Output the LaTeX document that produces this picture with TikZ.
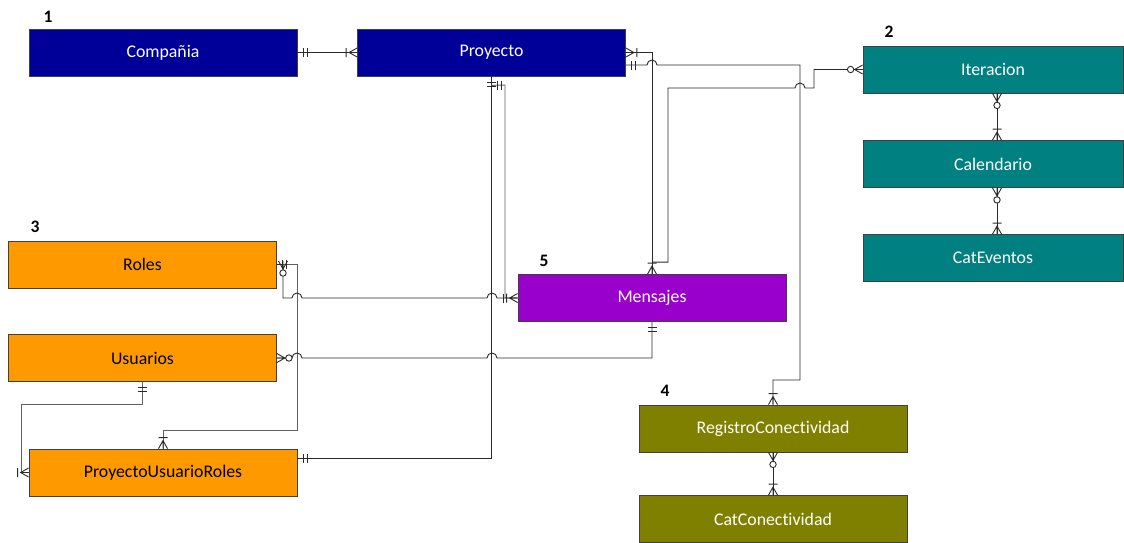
\documentclass[tikz,border=0pt]{standalone}
\usepackage{fontspec}
\setmainfont[Ligatures=NoCommon]{Carlito}
\usetikzlibrary{calc}

\definecolor{navy}{HTML}{000099}
\definecolor{tealbox}{HTML}{008080}
\definecolor{orangebox}{HTML}{FF9900}
\definecolor{purplebox}{HTML}{9900CC}
\definecolor{olivebox}{HTML}{808000}
\definecolor{linegray}{HTML}{2A2A2A}

\tikzset{
  ent/.style={draw=black!75, line width=0.8pt, minimum width=268pt, minimum height=47pt,
              inner sep=0pt, font=\fontsize{17.8}{20}\selectfont},
  darkent/.style={ent, text=white},
  conn/.style={draw=linegray, line width=0.9pt},
  softconn/.style={draw=black!62, line width=0.9pt},
  grouplabel/.style={font=\fontsize{17.5}{20}\selectfont\bfseries},
  % crow's foot notation, drawn with the entity edge at the origin and the line along +x
  pics/onemany/.style={code={
      \draw[conn] (0,4.5pt) -- (8pt,0) -- (0,-4.5pt) (0,0) -- (8pt,0) (11pt,-4.5pt) -- (11pt,4.5pt);}},
  pics/zeromany/.style={code={
      \draw[conn] (0,4.5pt) -- (8pt,0) -- (0,-4.5pt) (0,0) -- (8pt,0);
      \draw[conn, fill=white] (12pt,0) circle[radius=3.2pt];}},
  pics/oneone/.style={code={
      \draw[conn] (6pt,-4.5pt) -- (6pt,4.5pt) (10pt,-4.5pt) -- (10pt,4.5pt);}},
}

\begin{document}
\begin{tikzpicture}[x=1pt,y=1pt]
\useasboundingbox (0,0) rectangle (1124,-542);

% entities
\node[darkent, fill=navy] (comp) at (163,-52.5) {Compañia};
\node[darkent, fill=navy] (proy) at (491.5,-52.5) {Proyecto};
\node[darkent, fill=tealbox, minimum width=260pt] (iter) at (993,-69.5) {Iteracion};
\node[darkent, fill=tealbox, minimum width=260pt] (cal) at (993,-164) {Calendario};
\node[darkent, fill=tealbox, minimum width=260pt] (cate) at (993,-258) {CatEventos};
\node[ent, fill=orangebox] (roles) at (142.5,-264.5) {Roles};
\node[ent, fill=orangebox] (usu) at (142.5,-358) {Usuarios};
\node[ent, fill=orangebox] (pur) at (163,-472.5) {ProyectoUsuarioRoles};
\node[darkent, fill=purplebox] (mens) at (652,-298) {Mensajes};
\node[darkent, fill=olivebox] (reg) at (773,-428.5) {RegistroConectividad};
\node[darkent, fill=olivebox] (catc) at (773,-519) {CatConectividad};

% group numbers
\node[grouplabel] (g1) at (48,-17) {1};
\node[grouplabel] (g2) at (889,-32) {2};
\node[grouplabel] (g3) at (35,-227) {3};
\node[grouplabel] (g4) at (665,-391) {4};
\node[grouplabel] (g5) at (544,-261) {5};

% junction points on shared lines
\coordinate (mensjoin) at ([yshift=12pt]mens.north);
\coordinate (proybelow) at ([yshift=-9pt]proy.south);

% relationships
\draw[conn] (comp.east) -- (proy.west);
\draw[conn] (proy.east) -| (mens.north);
\draw[conn] (iter.west) -- (814,-69.5) -- (814,-88) -- (805,-88)
  arc[start angle=0, end angle=180, radius=5pt] -- (668,-88) |- (mensjoin);
\draw[conn] ([yshift=-12.5pt]proy.east) -- (647,-65)
  arc[start angle=180, end angle=0, radius=5pt] -- (800,-65) -- (800,-380) -| (reg.north);
\draw[conn] (proy.south) |- ([yshift=14.5pt]pur.east);
\draw[softconn] (proybelow) -- (505,-85) |- (mens.west);
\draw[softconn] (roles.east) -| (297,-430) -| (pur.north);
\draw[conn] (roles.east) -- (283,-264.5) -- (283,-298) -- (292,-298)
  arc[start angle=180, end angle=0, radius=5pt] -- (487,-298)
  arc[start angle=180, end angle=0, radius=5pt] -- (mens.west);
\draw[conn] (usu.east) -- (292,-358)
  arc[start angle=180, end angle=0, radius=5pt] -- (487,-358)
  arc[start angle=180, end angle=0, radius=5pt] -- (652,-358) -- (mens.south);
\draw[softconn] (usu.south) |- (21,-404) |- (pur.west);
\draw[conn] ([xshift=4pt]iter.south) -- ([xshift=4pt]cal.north);
\draw[conn] ([xshift=4pt]cal.south) -- ([xshift=4pt]cate.north);
\draw[conn] (reg.south) -- (catc.north);

% cardinality marks
\pic at (comp.east) {oneone};
\pic[rotate=180] at (proy.west) {onemany};
\pic at (proy.east) {onemany};
\pic at ([yshift=-12.5pt]proy.east) {oneone};
\pic[rotate=180] at (iter.west) {zeromany};
\pic[rotate=90] at (mens.north) {onemany};
\pic[rotate=90] at (reg.north) {onemany};
\pic[rotate=-90] at (proy.south) {oneone};
\pic at (proybelow) {oneone};
\pic[rotate=180] at (mens.west) {onemany};
\draw[conn] ([xshift=-14pt,yshift=-4.5pt]mens.west) -- ([xshift=-14pt,yshift=4.5pt]mens.west);
\pic at (roles.east) {oneone};
\pic[rotate=-90] at (283,-261) {zeromany};
\pic[rotate=90] at (pur.north) {onemany};
\pic at (usu.east) {zeromany};
\pic[rotate=-90] at (mens.south) {oneone};
\pic[rotate=-90] at (usu.south) {oneone};
\pic[rotate=180] at (pur.west) {onemany};
\pic at ([yshift=14.5pt]pur.east) {oneone};
\pic[rotate=-90] at ([xshift=4pt]iter.south) {zeromany};
\pic[rotate=90] at ([xshift=4pt]cal.north) {onemany};
\pic[rotate=-90] at ([xshift=4pt]cal.south) {zeromany};
\pic[rotate=90] at ([xshift=4pt]cate.north) {onemany};
\pic[rotate=-90] at (reg.south) {zeromany};
\pic[rotate=90] at (catc.north) {onemany};
\end{tikzpicture}
\end{document}
